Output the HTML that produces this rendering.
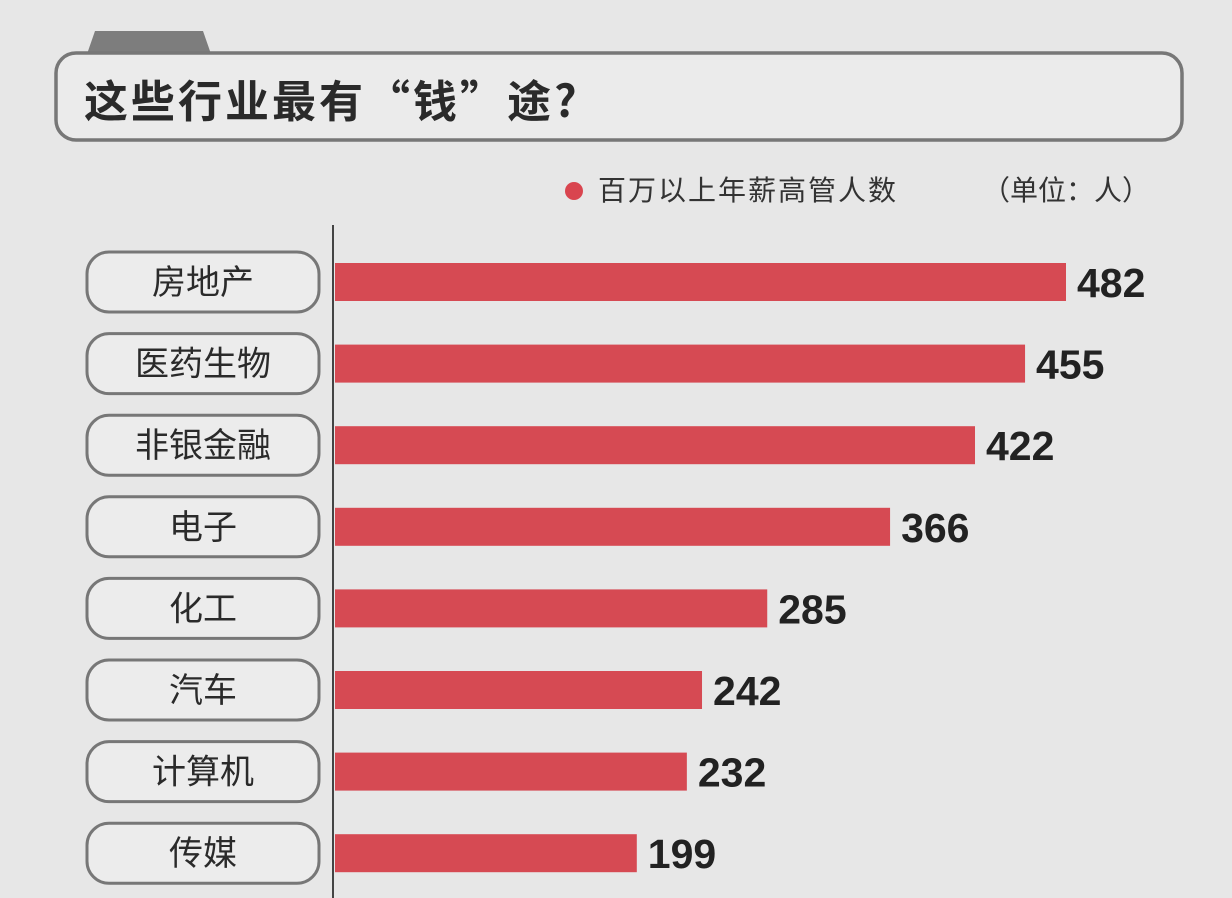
<!DOCTYPE html>
<html><head><meta charset="utf-8"><style>
body{margin:0;width:1232px;height:898px;background:#e7e7e7;overflow:hidden;font-family:"Liberation Sans","Noto Sans CJK SC",sans-serif;}
</style></head><body>
<svg id="chart" width="1232" height="898" xmlns="http://www.w3.org/2000/svg" style="position:absolute;left:0;top:0">
<path d="M87,54 L95,31 L203,31 L211,54 Z" fill="#7d7d7d"/>
<rect x="56" y="53" width="1126" height="87" rx="20" fill="#ebebeb" stroke="#777" stroke-width="3.5"/>
<text x="84" y="117" font-size="44" font-weight="bold" fill="#2a2a2a" letter-spacing="3" font-family="Noto Sans CJK SC,sans-serif">这些行业最有“钱”途?</text>
<circle cx="574" cy="191" r="9" fill="#d9454f"/>
<text x="598" y="200" font-size="28" letter-spacing="2" fill="#333" font-family="Noto Sans CJK SC,sans-serif">百万以上年薪高管人数</text>
<text x="982" y="200" font-size="28" fill="#333" font-family="Noto Sans CJK SC,sans-serif">（单位：人）</text>
<line x1="333" y1="225" x2="333" y2="898" stroke="#444" stroke-width="2"/>
<g id="bars"></g>
</svg>
<script>
const categories=["房地产","医药生物","非银金融","电子","化工","汽车","计算机","传媒"];
const values=[482,455,422,366,285,242,232,199];
const valueLabels=["482","455","422","366","285","242","232","199"];
const NS="http://www.w3.org/2000/svg";
const x0=335, scale=(1066-335)/482;
function xPos(v){return x0+v*scale;}
function yCenter(i){return 282+i*81.6;}
const g=document.getElementById('bars');
function mk(t,a){const e=document.createElementNS(NS,t);for(const k in a)e.setAttribute(k,a[k]);return e;}
categories.forEach((c,i)=>{
  const cy=yCenter(i);
  const box=mk('rect',{x:87,y:cy-30,width:232,height:60,rx:22,fill:'#ececec',stroke:'#777','stroke-width':3});
  
  
  g.appendChild(box);
  const lt=mk('text',{x:203,y:cy+12,'font-size':34,'text-anchor':'middle',fill:'#2a2a2a'});
  
  
  lt.textContent=c;g.appendChild(lt);
  const b=mk('rect',{x:x0,y:cy-19,width:xPos(values[i])-x0,height:38,fill:'#d64a53'});
  
  
  g.appendChild(b);
  const vt=mk('text',{x:xPos(values[i])+11,y:cy+15,'font-size':41,'font-weight':'bold',fill:'#222'});
  
  
  vt.textContent=valueLabels[i];g.appendChild(vt);
});
</script>
</body></html>
